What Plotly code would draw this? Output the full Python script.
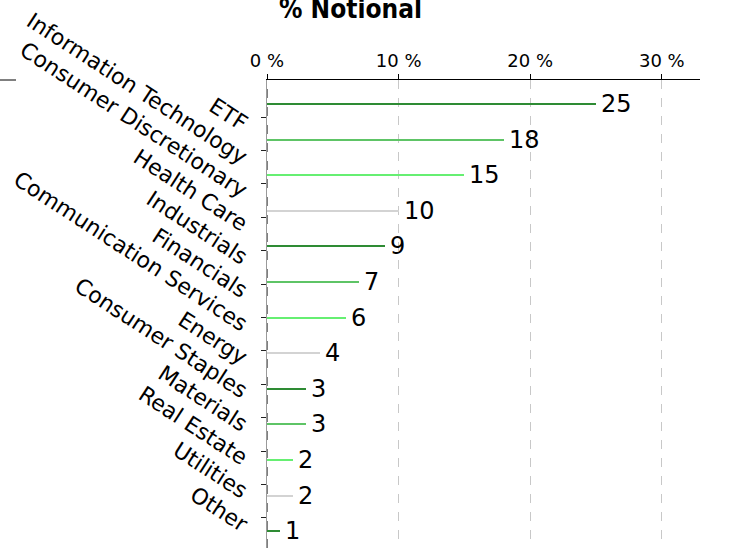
import plotly.graph_objects as go

categories = ["ETF", "Information Technology", "Consumer Discretionary", "Health Care",
              "Industrials", "Financials", "Communication Services", "Energy",
              "Consumer Staples", "Materials", "Real Estate", "Utilities", "Other"]
values = [25, 18, 15, 10, 9, 7, 6, 4, 3, 3, 2, 2, 1]
bar_colors = ["#2e8b34", "#5ec466", "#66ef72", "#d3d3d3"] * 3 + ["#2e8b34"]
x_ticks = [0, 10, 20, 30]
x_ticktext = ["0 %", "10 %", "20 %", "30 %"]

W, H = 744, 548
L, R, T, B = 267, 44, 80, 0
pw = W - L - R
ph = H - T - B

tick_idx = list(range(len(categories)))
tick_rng = [12.904, -1.108]          # tick marks
lab_shift = 0.26                      # category labels sit a little below their ticks
lab_rng = [tick_rng[0] - lab_shift, tick_rng[1] - lab_shift]

fig = go.Figure()
fig.add_trace(go.Bar(
    x=values, y=categories, orientation="h", width=0.0562,
    marker=dict(color=bar_colors, line=dict(width=0)),
    hoverinfo="skip", showlegend=False))
fig.add_trace(go.Scatter(
    x=[0] * len(categories), y=tick_idx, yaxis="y2",
    mode="markers", marker=dict(opacity=0), hoverinfo="skip", showlegend=False))
fig.add_trace(go.Scatter(
    x=[0] * len(categories), y=tick_idx, yaxis="y3",
    mode="markers", marker=dict(opacity=0), hoverinfo="skip", showlegend=False))

for c, v in zip(categories, values):
    fig.add_annotation(x=v, y=c, xref="x", yref="y", text=str(v), showarrow=False,
                       xanchor="left", yanchor="middle", xshift=3, yshift=0,
                       font=dict(family="DejaVu Sans", size=24, color="#000"))

fig.update_layout(
    width=W, height=H,
    margin=dict(l=L, r=R, t=T, b=B, pad=0, autoexpand=False),
    paper_bgcolor="white", plot_bgcolor="white",
    bargap=0,
    xaxis=dict(side="top", range=[0, 32.9], tickvals=x_ticks, ticktext=x_ticktext,
               automargin=False,
               showline=True, linecolor="#000", linewidth=1,
               ticks="outside", ticklen=5, tickcolor="#000",
               showgrid=True, gridcolor="#c8c8c8", griddash="dash", gridwidth=1,
               zeroline=False,
               tickfont=dict(family="DejaVu Sans", size=18, color="#000")),
    yaxis=dict(type="category", categoryorder="array", categoryarray=categories,
               automargin=False,
               range=[12.472, -0.674], showticklabels=False, ticks="",
               showgrid=False, zeroline=False,
               showline=True, linecolor="#9a9a9a", linewidth=1),
    yaxis2=dict(overlaying="y", range=tick_rng, automargin=False,
                tickvals=tick_idx, showticklabels=False,
                ticks="outside", ticklen=5, tickcolor="#222",
                showgrid=False, zeroline=False, showline=False),
    yaxis3=dict(overlaying="y", range=lab_rng, automargin=False,
                tickvals=tick_idx, ticktext=categories,
                tickangle=33, ticks="", ticklabelstandoff=19,
                showgrid=False, zeroline=False, showline=False,
                tickfont=dict(family="DejaVu Sans", size=22, color="#000")),
    font=dict(family="DejaVu Sans"),
)

# reference line at 0
fig.add_shape(type="line", xref="x", yref="paper", x0=0, x1=0, y0=0, y1=1,
              line=dict(color="#000", width=1, dash="dash"))
# short spine stub at far left
fig.add_shape(type="line", xref="paper", yref="paper",
              x0=(0 - L) / pw, x1=(16 - L) / pw, y0=1, y1=1,
              line=dict(color="#000", width=1))

fig.add_annotation(text="<b>% Notional</b>", xref="paper", yref="paper",
                   x=(350 - L) / pw, y=(H - 26) / ph, xanchor="center", yanchor="bottom",
                   showarrow=False,
                   font=dict(family="DejaVu Sans Condensed", size=26, color="#000"))

fig.write_html("out.html", config={"displayModeBar": False},
               post_script="document.body.style.margin='0px';")
